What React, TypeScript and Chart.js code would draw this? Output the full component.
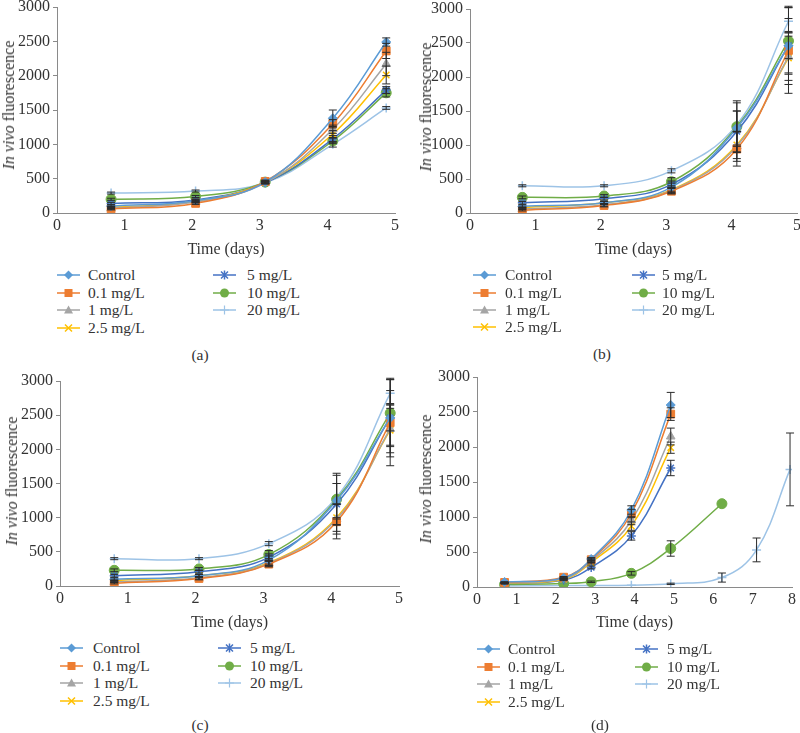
import React, { useEffect, useRef } from "react";
import { Chart, registerables } from "chart.js";

Chart.register(...registerables);

// ---------- shared series definitions ----------
const NAMES = ["Control", "0.1 mg/L", "1 mg/L", "2.5 mg/L", "5 mg/L", "10 mg/L", "20 mg/L"];
const COLORS = ["#5B9BD5", "#ED7D31", "#A5A5A5", "#FFC000", "#4472C4", "#70AD47", "#9DC3E6"];
const MARKERS = ["rectRot", "rect", "triangle", "crossRot", "star", "circle", "cross"];
const RADII = [4.5, 5.5, 5, 4.5, 4.5, 5, 4.5];

// ---------- panel (a) ----------
const daysA = [0.8, 2.05, 3.08, 4.08, 4.87];
const controlA = [100, 180, 450, 1380, 2490];
const c01A = [60, 140, 460, 1300, 2360];
const c1A = [70, 160, 440, 1220, 2170];
const c25A = [80, 170, 450, 1150, 2010];
const c5A = [140, 190, 440, 1080, 1790];
const c10A = [200, 240, 450, 1050, 1750];
const c20A = [290, 320, 440, 1000, 1530];
const errControlA = [15, 15, 20, 120, 60];
const errC01A = [15, 15, 20, 60, 110];
const errC1A = [15, 15, 15, 60, 170];
const errC25A = [15, 15, 15, 50, 130];
const errC5A = [15, 15, 15, 50, 50];
const errC10A = [15, 15, 15, 40, 60];
const errC20A = [15, 15, 15, 40, 20];

// ---------- panels (b) and (c) ----------
const daysB = [0.8, 2.05, 3.08, 4.08, 4.87];
const controlB = [100, 150, 380, 1250, 2460];
const c01B = [40, 110, 320, 940, 2390];
const c1B = [60, 120, 330, 980, 2300];
const c25B = [80, 150, 340, 1000, 2280];
const c5B = [150, 210, 420, 1200, 2460];
const c10B = [230, 250, 460, 1270, 2530];
const c20B = [400, 400, 620, 1300, 2820];
const errControlB = [20, 20, 60, 250, 400];
const errC01B = [10, 20, 40, 250, 630];
const errC1B = [10, 20, 40, 220, 350];
const errC25B = [10, 20, 40, 200, 390];
const errC5B = [20, 20, 50, 300, 190];
const errC10B = [20, 20, 60, 380, 490];
const errC20B = [15, 15, 30, 320, 220];

// ---------- panel (d) ----------
const daysD = [0.7, 2.2, 2.9, 3.92, 4.92, 6.22, 7.1, 7.95];
const controlD = [70, 130, 400, 1100, 2600];
const c01D = [65, 140, 390, 1050, 2470];
const c1D = [60, 120, 370, 950, 2150];
const c25D = [55, 110, 350, 870, 1990];
const c5D = [45, 100, 280, 730, 1700];
const c10D = [35, 50, 75, 195, 550, 1190];
const c20D = [15, 20, 20, 25, 45, 135, 530, 1680];
const errControlD = [5, 10, 20, 60, 180];
const errC01D = [5, 10, 20, 60, 90];
const errC1D = [5, 10, 20, 60, 120];
const errC25D = [5, 10, 20, 60, 80];
const errC5D = [5, 10, 20, 60, 110];
const errC10D = [0, 0, 10, 25, 110, 0];
const errC20D = [0, 0, 0, 0, 10, 65, 170, 520];

const X_MAX_ABC = 5;
const X_MAX_D = 8;
const Y_MAX = 3000;
const Y_STEP = 500;

const FONT = '"Liberation Serif", "Times New Roman", serif';
const TEXT = "#333333";
const AXIS = "#8a8a8a";
const TICK_SIZE = 16;
const TITLE_SIZE = 16;
const LEGEND_SIZE = 15.5;

type Series = { x: number[]; y: number[]; err: number[] };

const seriesA: Series[] = [
  { x: daysA, y: controlA, err: errControlA },
  { x: daysA, y: c01A, err: errC01A },
  { x: daysA, y: c1A, err: errC1A },
  { x: daysA, y: c25A, err: errC25A },
  { x: daysA, y: c5A, err: errC5A },
  { x: daysA, y: c10A, err: errC10A },
  { x: daysA, y: c20A, err: errC20A },
];
const seriesB: Series[] = [
  { x: daysB, y: controlB, err: errControlB },
  { x: daysB, y: c01B, err: errC01B },
  { x: daysB, y: c1B, err: errC1B },
  { x: daysB, y: c25B, err: errC25B },
  { x: daysB, y: c5B, err: errC5B },
  { x: daysB, y: c10B, err: errC10B },
  { x: daysB, y: c20B, err: errC20B },
];
const seriesD: Series[] = [
  { x: daysD, y: controlD, err: errControlD },
  { x: daysD, y: c01D, err: errC01D },
  { x: daysD, y: c1D, err: errC1D },
  { x: daysD, y: c25D, err: errC25D },
  { x: daysD, y: c5D, err: errC5D },
  { x: daysD, y: c10D, err: errC10D },
  { x: daysD, y: c20D, err: errC20D },
];

const errorBarPlugin = {
  id: "errorBars",
  afterDatasetsDraw(chart: any) {
    const ctx = chart.ctx;
    const ys = chart.scales.y;
    chart.data.datasets.forEach((ds: any, i: number) => {
      const errs: number[] = ds.errors;
      if (!errs) return;
      const meta = chart.getDatasetMeta(i);
      meta.data.forEach((pt: any, j: number) => {
        const e = errs[j];
        if (!e) return;
        const v = ds.data[j].y;
        const yTop = ys.getPixelForValue(v + e);
        const yBot = ys.getPixelForValue(v - e);
        ctx.save();
        ctx.strokeStyle = "#2b2b2b";
        ctx.lineWidth = 1;
        ctx.beginPath();
        ctx.moveTo(pt.x, yTop);
        ctx.lineTo(pt.x, yBot);
        ctx.moveTo(pt.x - 4, yTop);
        ctx.lineTo(pt.x + 4, yTop);
        ctx.moveTo(pt.x - 4, yBot);
        ctx.lineTo(pt.x + 4, yBot);
        ctx.stroke();
        ctx.restore();
      });
    });
  },
};

type Area = { l: number; r: number; t: number; b: number };

const PADL = 70;
const PADT = 20;
const PADR = 20;

function ChartPanel({ area, xMax, titleY, series }: { area: Area; xMax: number; titleY: number; series: Series[] }) {
  const ref = useRef<HTMLCanvasElement>(null);
  const half = (TITLE_SIZE * 1.2) / 2;
  const cw = area.r - area.l + PADL + PADR;
  const ch = Math.round(area.b - area.t + PADT + (titleY + half - area.b));
  const xAxisH = ch - PADT - (area.b - area.t);

  useEffect(() => {
    if (!ref.current) return;
    const chart = new Chart(ref.current, {
      type: "line",
      data: {
        datasets: series.map((s, i) => ({
          label: NAMES[i],
          data: s.y.map((v, j) => ({ x: s.x[j], y: v })),
          errors: s.err,
          borderColor: COLORS[i],
          backgroundColor: COLORS[i],
          pointStyle: MARKERS[i] as any,
          pointRadius: RADII[i],
          pointBorderColor: COLORS[i],
          pointBackgroundColor: COLORS[i],
          pointBorderWidth: [3, 4, 6].includes(i) ? 1.5 : 1,
          borderWidth: 1.5,
          tension: 0.4,
          fill: false,
        })) as any,
      },
      options: {
        responsive: false,
        animation: false,
        devicePixelRatio: 1,
        layout: { padding: { left: 0, top: PADT, right: PADR, bottom: 0 } },
        plugins: { legend: { display: false }, tooltip: { enabled: false } },
        scales: {
          x: {
            type: "linear",
            min: 0,
            max: xMax,
            ticks: {
              stepSize: 1,
              padding: 3,
              color: TEXT,
              font: { family: FONT, size: TICK_SIZE },
              callback: (v: any) => String(v),
            },
            grid: { display: false, drawTicks: false },
            border: { display: true, color: AXIS, width: 1 },
            title: {
              display: true,
              text: "Time (days)",
              color: TEXT,
              font: { family: FONT, size: TITLE_SIZE },
              padding: 0,
            },
            afterFit: (s: any) => {
              s.height = xAxisH;
            },
          },
          y: {
            type: "linear",
            min: 0,
            max: Y_MAX,
            ticks: {
              stepSize: Y_STEP,
              padding: 3,
              color: TEXT,
              font: { family: FONT, size: TICK_SIZE },
              callback: (v: any) => String(v),
            },
            grid: { display: true, drawOnChartArea: false, drawTicks: true, tickLength: 4, color: AXIS },
            border: { display: true, color: AXIS, width: 1 },
            afterFit: (s: any) => {
              s.width = PADL;
            },
          },
        },
      } as any,
      plugins: [errorBarPlugin as any],
    });
    return () => chart.destroy();
  }, []);

  return (
    <canvas
      ref={ref}
      width={cw}
      height={ch}
      style={{ position: "absolute", left: area.l - PADL, top: area.t - PADT, width: cw, height: ch }}
    />
  );
}

function MarkerIcon({ i }: { i: number }) {
  const c = COLORS[i];
  const cx = 11.5;
  const cy = 6;
  let m: React.ReactNode = null;
  switch (MARKERS[i]) {
    case "rectRot":
      m = <polygon points={`${cx},${cy - 4.5} ${cx + 4.5},${cy} ${cx},${cy + 4.5} ${cx - 4.5},${cy}`} fill={c} />;
      break;
    case "rect":
      m = <rect x={cx - 4} y={cy - 4} width={8} height={8} fill={c} />;
      break;
    case "triangle":
      m = <polygon points={`${cx},${cy - 4.5} ${cx + 4.5},${cy + 3.5} ${cx - 4.5},${cy + 3.5}`} fill={c} />;
      break;
    case "crossRot":
      m = (
        <path d={`M${cx - 3.5} ${cy - 3.5} L${cx + 3.5} ${cy + 3.5} M${cx + 3.5} ${cy - 3.5} L${cx - 3.5} ${cy + 3.5}`} stroke={c} strokeWidth={1.5} />
      );
      break;
    case "star":
      m = (
        <path
          d={`M${cx - 3.5} ${cy - 3.5} L${cx + 3.5} ${cy + 3.5} M${cx + 3.5} ${cy - 3.5} L${cx - 3.5} ${cy + 3.5} M${cx} ${cy - 4.5} L${cx} ${cy + 4.5}`}
          stroke={c}
          strokeWidth={1.5}
        />
      );
      break;
    case "circle":
      m = <circle cx={cx} cy={cy} r={4.5} fill={c} />;
      break;
    case "cross":
      m = <path d={`M${cx - 4.5} ${cy} L${cx + 4.5} ${cy} M${cx} ${cy - 4.5} L${cx} ${cy + 4.5}`} stroke={c} strokeWidth={1.2} />;
      break;
  }
  return (
    <svg width={23} height={12} style={{ display: "block" }}>
      <line x1={0} y1={cy} x2={23} y2={cy} stroke={c} strokeWidth={1.5} />
      {m}
    </svg>
  );
}

type LegendPos = { icon1: number; text1: number; icon2: number; text2: number; rows: number[] };

function Legend({ pos }: { pos: LegendPos }) {
  return (
    <>
      {NAMES.map((name, i) => {
        const col = i < 4 ? 0 : 1;
        const row = i < 4 ? i : i - 4;
        const y = pos.rows[row];
        const ix = col === 0 ? pos.icon1 : pos.icon2;
        const tx = col === 0 ? pos.text1 : pos.text2;
        return (
          <React.Fragment key={name}>
            <div style={{ position: "absolute", left: ix, top: y - 6 }}>
              <MarkerIcon i={i} />
            </div>
            <div
              style={{
                position: "absolute",
                left: tx,
                top: y,
                transform: "translateY(-50%)",
                font: `${LEGEND_SIZE}px ${FONT}`,
                color: TEXT,
                lineHeight: "18px",
                whiteSpace: "nowrap",
              }}
            >
              {name}
            </div>
          </React.Fragment>
        );
      })}
    </>
  );
}

function YTitle({ x, y }: { x: number; y: number }) {
  return (
    <div
      style={{
        position: "absolute",
        left: x,
        top: y,
        transform: "translate(-50%, -50%) rotate(-90deg)",
        whiteSpace: "nowrap",
        font: `${TITLE_SIZE}px ${FONT}`,
        color: TEXT,
        lineHeight: "18px",
      }}
    >
      <i>In vivo</i> fluorescence
    </div>
  );
}

function Caption({ x, y, text }: { x: number; y: number; text: string }) {
  return (
    <div
      style={{
        position: "absolute",
        left: x,
        top: y,
        transform: "translate(-50%, -50%)",
        font: `${LEGEND_SIZE}px ${FONT}`,
        color: TEXT,
        lineHeight: "18px",
      }}
    >
      {text}
    </div>
  );
}

export default function App() {
  return (
    <div
      style={{
        position: "absolute",
        left: 0,
        top: 0,
        width: 800,
        height: 733,
        overflow: "hidden",
        background: "#ffffff",
      }}
    >
      <ChartPanel area={{ l: 57, r: 395, t: 7, b: 213 }} xMax={X_MAX_ABC} titleY={249} series={seriesA} />
      <YTitle x={9} y={105} />
      <Legend pos={{ icon1: 57, text1: 88, icon2: 213, text2: 247, rows: [275, 293, 310, 328] }} />
      <Caption x={200} y={355} text="(a)" />

      <ChartPanel area={{ l: 470, r: 797, t: 9, b: 213 }} xMax={X_MAX_ABC} titleY={249} series={seriesB} />
      <YTitle x={426} y={107} />
      <Legend pos={{ icon1: 473, text1: 505, icon2: 632, text2: 662, rows: [275, 293, 310, 327] }} />
      <Caption x={602} y={354} text="(b)" />

      <ChartPanel area={{ l: 60, r: 399, t: 381, b: 586 }} xMax={X_MAX_ABC} titleY={622} series={seriesB} />
      <YTitle x={12} y={481} />
      <Legend pos={{ icon1: 60, text1: 93, icon2: 218, text2: 250, rows: [648, 666, 683, 701] }} />
      <Caption x={200} y={725} text="(c)" />

      <ChartPanel area={{ l: 477, r: 792, t: 377, b: 587 }} xMax={X_MAX_D} titleY={622} series={seriesD} />
      <YTitle x={426} y={479} />
      <Legend pos={{ icon1: 477, text1: 508, icon2: 635, text2: 667, rows: [649, 667, 684, 702] }} />
      <Caption x={600} y={725} text="(d)" />
    </div>
  );
}
